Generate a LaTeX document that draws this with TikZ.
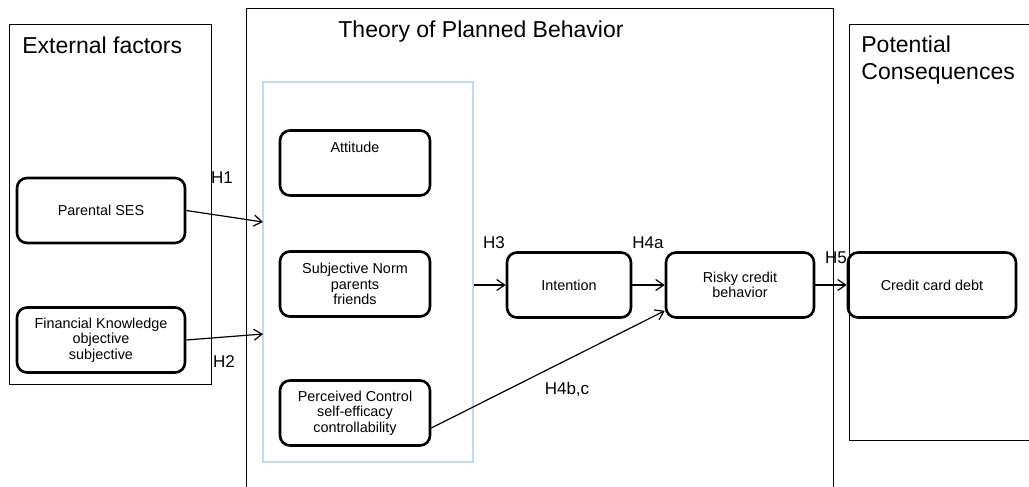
\documentclass[tikz,border=0pt]{standalone}
\usepackage{fontspec}
\setmainfont{Liberation Sans}
\usetikzlibrary{calc,arrows.meta}
\tikzset{>={Straight Barb[length=4pt,width=5.5pt]}}
\definecolor{tpbline}{RGB}{188,222,230}

\begin{document}
\begin{tikzpicture}[x=0.5pt, y=-0.5pt,
  box/.style={draw, line width=1.3pt, rounded corners=5pt, minimum width=84pt,
    minimum height=32.5pt, align=center, inner sep=1pt,
    font=\fontsize{7.2}{7.8}\selectfont},
  frame/.style={draw, line width=0.5pt},
  title/.style={inner sep=0pt, align=left, font=\fontsize{11.5}{13.5}\selectfont},
  hlab/.style={inner sep=0pt, font=\fontsize{8.5}{10}\selectfont}]
\useasboundingbox (0,0) rectangle (1029,487);

% the three frames
\node[frame, minimum width=101pt, minimum height=180pt, inner sep=0pt] (ext) at (110,204) {};
\draw[frame] (246,8) rectangle (833,500);
\draw[frame] (849,24) rectangle (1040,440);
\node[draw=tpbline, line width=0.6pt, minimum width=105pt, minimum height=190pt, inner sep=0pt] (tpb) at (368,272) {};

\node[title, anchor=north west] (extt) at (22,36) {External factors};
\node[title, anchor=north] (tpbt) at (481,20) {Theory of Planned Behavior};
\node[title, anchor=north west] (cont) at (861,35) {Potential\\Consequences};

% boxes
\node[box] (ps) at (101,210.5) {Parental SES};
\node[box] (fk) at (101,340) {Financial Knowledge\\objective\\subjective};
\node[box, minimum width=75pt] (att) at (355,163) {Attitude\\~\\~};
\node[box, minimum width=75pt] (sn) at (355,284) {Subjective Norm\\parents\\friends};
\node[box, minimum width=75pt] (pc) at (355,413) {Perceived Control\\self-efficacy\\controllability};
\node[box, minimum width=62pt] (int) at (569,285) {Intention};
\node[box, minimum width=74pt] (rcb) at (740,285) {Risky credit\\behavior};
\node[box] (ccd) at (932,285) {Credit card debt};

\coordinate (in1) at (263,222);
\coordinate (in2) at (263,334);

\path[->, line width=0.6pt]
(ps.east) edge (in1)
(fk.east) edge (in2)
(tpb.east |- int.west) edge (int.west)
(int.east) edge (rcb.west)
(rcb.east) edge (ccd.west)
($(pc.east)+(0,15)$) edge ($(rcb.south west)+(0,-8)$)
;

% hypotheses
\node[hlab] (h1) at (222,178) {H1};
\node[hlab] (h2) at (224,362) {H2};
\node[hlab] (h3) at (494,243) {H3};
\node[hlab] (h4a) at (648,243) {H4a};
\node[hlab] (h5) at (836,258) {H5};
\node[hlab] (h4bc) at (567,389) {H4b,c};
\end{tikzpicture}
\end{document}
